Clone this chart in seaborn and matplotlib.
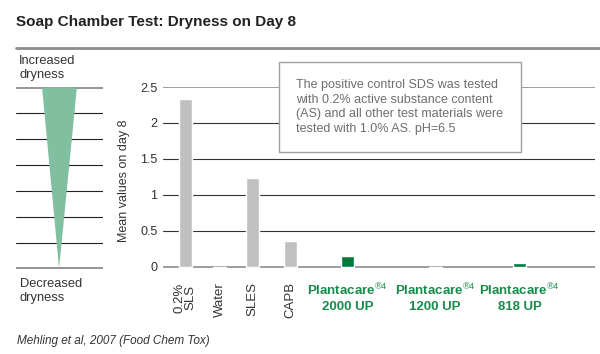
import numpy as np
import matplotlib
matplotlib.use('Agg')
import matplotlib.pyplot as plt
import seaborn as sns

sns.set_style('white')
plt.rcParams['font.family'] = ['Liberation Sans', 'DejaVu Sans']
plt.rcParams['mathtext.fontset'] = 'custom'
plt.rcParams['mathtext.rm'] = 'Liberation Sans'
plt.rcParams['mathtext.bf'] = 'Liberation Sans:bold'

# data
labels = ['0.2%\nSLS', 'Water', 'SLES', 'CAPB',
          'Plantacare$^{\\circledR4}$\n2000 UP',
          'Plantacare$^{\\circledR4}$\n1200 UP',
          'Plantacare$^{\\circledR4}$\n818 UP']
values = [2.34, -0.02, 1.23, 0.36, 0.15, -0.02, 0.055]
is_plantacare = [False, False, False, False, True, True, True]
yticks = [0, 0.5, 1, 1.5, 2, 2.5]
ytick_labels = ['0', '0.5', '1', '1.5', '2', '2.5']
scale_levels = list(range(8))

# layout (bar slots are unevenly spaced in the original)
slots = [0, 1, 1.95, 3.05, 4.7, 7.25, 9.7]
grey = '#c0c0c0'
green = '#007a3d'
label_green = '#1a8a4a'
text_col = '#333333'
colors = [green if p else grey for p in is_plantacare]

fig = plt.figure(figsize=(6, 3.54), dpi=100)

# title and rule
fig.text(16 / 600, 1 - 22 / 354, 'Soap Chamber Test: Dryness on Day 8',
         fontsize=11, fontweight='bold', color='#222222', va='center')
fig.add_artist(plt.Line2D([16 / 600, 1.0], [1 - 48 / 354] * 2,
                          color='#8c8c8c', lw=2))

# main bar chart
ax = fig.add_axes([163 / 600, 1 - 274 / 354, 432 / 600, (274 - 87) / 354])
sns.barplot(x=slots, y=values, hue=labels, palette=colors, native_scale=True,
            dodge=False, width=0.4, legend=False, ax=ax, saturation=1)
ax.set_xlim(-0.64, 11.88)
ax.set_ylim(-0.1, 2.5)
ax.set_yticks(yticks)
ax.set_yticklabels(ytick_labels, fontsize=9, color=text_col)
for y in yticks:
    inner = 0 < y < 2.5
    ax.axhline(y, color='#333333' if inner else '#8c8c8c',
               lw=0.8 if inner else 1.2, zorder=0)
for s in ax.spines.values():
    s.set_visible(False)
ax.tick_params(length=0, pad=4)
ax.set_ylabel('Mean values on day 8', fontsize=9, color=text_col, labelpad=7)

ax.set_xticks(slots)
ax.set_xticklabels(labels)
for lab, p in zip(ax.get_xticklabels(), is_plantacare):
    lab.set_va('top')
    lab.set_ha('center')
    if p:
        lab.set_color(label_green)
        lab.set_fontweight('bold')
        lab.set_fontsize(9.5)
        lab.set_rotation(0)
        lab.set_linespacing(1.3)
    else:
        lab.set_color(text_col)
        lab.set_fontsize(9.5)
        lab.set_rotation(90)
        lab.set_multialignment('center')
        lab.set_linespacing(0.95)
ax.tick_params(axis='x', pad=6)

# note box
box = plt.Rectangle((279 / 600, 1 - 152 / 354), 242 / 600, 90 / 354,
                    transform=fig.transFigure, facecolor='white',
                    edgecolor='#a0a0a0', lw=1, zorder=5, clip_on=False)
ax.add_patch(box)
fig.text(296 / 600, 1 - 107 / 354,
         'The positive control SDS was tested\n'
         'with 0.2% active substance content\n'
         '(AS) and all other test materials were\n'
         'tested with 1.0% AS. pH=6.5',
         fontsize=9, color='#6e6e6e', va='center', ha='left',
         linespacing=1.3, zorder=6)

# dryness scale
sax = fig.add_axes([16 / 600, 1 - 269 / 354, 87 / 600, (269 - 87) / 354])
sax.set_xlim(0, 1)
sax.set_ylim(-0.02, 7.02)
sax.axis('off')
top, bot = scale_levels[-1], scale_levels[0]
for lv in scale_levels:
    edge = lv in (top, bot)
    sax.axhline(lv, color='#8c8c8c' if edge else '#222222',
                lw=1.3 if edge else 0.8, zorder=1)
sax.fill([0.30, 0.70, 0.495], [top, top, bot], color='#80bfa0', zorder=2,
         lw=0)
fig.text(19 / 600, 1 - 68 / 354, 'Increased\ndryness', fontsize=9.3,
         color=text_col, va='center', linespacing=1.2)
fig.text(20 / 600, 1 - 291 / 354, 'Decreased\ndryness', fontsize=9.3,
         color=text_col, va='center', linespacing=1.3)

# source
fig.text(17 / 600, 1 - 341 / 354, 'Mehling et al, 2007 (Food Chem Tox)',
         fontsize=8.5, style='italic', color=text_col, va='center')

fig.savefig('out.png', dpi=100)
